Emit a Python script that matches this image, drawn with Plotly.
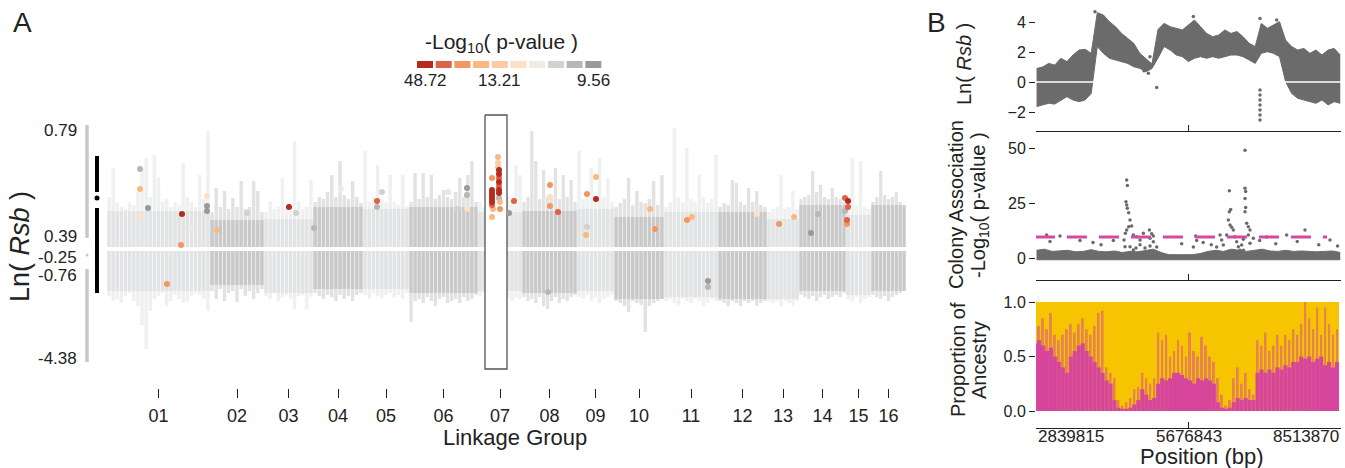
import numpy as np
import plotly.graph_objects as go

W, H = 1345, 468
def fx(px): return px / W
def fy(py): return 1 - py / H

FONT = "Liberation Sans, Arial, sans-serif"
INK = "#222222"

# ================= Panel A data =================
lg_labels = ["01", "02", "03", "04", "05", "06", "07", "08", "09", "10", "11", "12", "13", "14", "15", "16"]
lg_bounds = [107, 210, 264, 313, 363, 409, 478, 522, 577, 614, 664, 718, 767, 799, 846, 871, 906]
lg_columns = [25, 13, 12, 12, 11, 17, 11, 14, 9, 12, 13, 12, 8, 12, 6, 9]
lg_dense_up = [36, 27, 28, 40, 38, 40, 35, 36, 38, 30, 35, 35, 28, 42, 32, 42]
lg_dense_down = [40, 34, 42, 38, 38, 42, 40, 42, 40, 48, 46, 48, 48, 40, 44, 40]

rsb_up = [50, 79, 45, 40, 38, 45, 42, 55, 80, 89, 50, 92, 70, 45, 48, 40, 45, 42, 84, 50, 45, 40, 72, 48, 116,
          35, 59, 40, 56, 38, 49, 40, 66, 38, 40, 66, 56, 35,
          35, 46, 38, 40, 69, 40, 36, 106, 46, 38, 40, 67,
          45, 50, 48, 55, 72, 50, 86, 52, 48, 66, 50, 44,
          96, 45, 50, 82, 48, 45, 72, 45, 42, 72, 40,
          45, 74, 48, 74, 50, 72, 48, 52, 57, 50, 48, 55, 69, 50, 72, 86, 45,
          45, 40, 40, 40, 40, 40, 40, 50, 45, 82, 72,
          45, 50, 116, 86, 48, 77, 50, 52, 79, 48, 72, 50, 67, 45,
          96, 48, 50, 79, 45, 89, 50, 69, 45,
          40, 44, 48, 69, 42, 56, 45, 44, 48, 66, 42, 72,
          40, 45, 119, 50, 45, 99, 48, 45, 72, 50, 44, 48, 92,
          40, 44, 42, 67, 64, 45, 42, 59, 45, 56, 42, 40,
          35, 38, 40, 72, 38, 40, 56, 38,
          48, 50, 52, 76, 55, 62, 50, 48, 59, 50, 48, 45,
          40, 89, 42, 86, 40, 38,
          45, 50, 76, 52, 48, 50, 55, 45, 40]
rsb_down = [45, 50, 48, 52, 45, 42, 50, 55, 74, 98, 60, 48, 45, 42, 55, 50, 44, 48, 52, 50, 45, 42, 44, 48, 60,
            40, 48, 38, 50, 42, 40, 51, 38, 45, 40, 48, 42, 38,
            45, 48, 42, 50, 46, 44, 48, 58, 45, 44, 58, 46,
            42, 45, 48, 44, 46, 50, 44, 48, 45, 50, 44, 42,
            44, 48, 42, 45, 47, 44, 42, 46, 44, 48, 42,
            71, 50, 48, 52, 46, 50, 55, 48, 46, 52, 50, 48, 52, 46, 50, 48, 44,
            45, 42, 42, 42, 42, 42, 42, 48, 50, 46, 48,
            46, 50, 48, 52, 46, 55, 58, 50, 46, 52, 48, 50, 46, 44,
            46, 48, 44, 50, 46, 52, 48, 46, 44,
            50, 52, 55, 61, 50, 52, 54, 81, 55, 52, 50, 48,
            50, 48, 52, 55, 48, 50, 52, 48, 50, 55, 52, 48, 50,
            50, 52, 55, 50, 52, 55, 50, 52, 50, 55, 52, 50,
            50, 52, 50, 55, 50, 52, 55, 50,
            44, 46, 48, 45, 50, 46, 44, 48, 46, 44, 46, 42,
            48, 50, 46, 52, 48, 46,
            44, 46, 48, 45, 50, 46, 44, 42, 40]

# significant SNPs (position in genome units, Ln(Rsb) display units, p-value class 1..10)
snp_pos = [140, 140, 140, 148, 182, 181, 191, 167, 207, 207, 207, 217, 247, 289, 296, 314, 341, 377, 377, 382,
           448, 457, 467, 467, 467,
           492, 492, 492, 492, 492, 492, 492, 493, 492, 498, 498, 498, 499, 499, 499, 499, 499, 499, 499, 499, 500, 500,
           509, 514, 550, 550, 550, 558, 548, 587, 596, 596, 587, 586, 650, 655, 687, 692, 757, 779, 794, 811, 818,
           845, 848, 848, 845, 847, 847, 708, 708]
snp_rsb = [80, 60, 33, 41, 35, 4, 21, -35, 43, 38, 53, 19, 36, 42, 36, 21, 60, 48, 42, 57,
           57, 40, 61, 54, 40,
           71, 59, 56, 53, 50, 47, 44, 40, 32, 92, 86, 82, 79, 75, 71, 67, 63, 59, 56, 51, 47, 40,
           36, 48, 64, 52, 43, 37, -43, 55, 72, 50, 22, 14, 40, 20, 29, 32, 35, 25, 32, 16, 35,
           51, 48, 42, 38, 29, 25, -32, -38]
snp_class = [9, 4, 6, 10, 1, 3, 7, 3, 10, 10, 6, 4, 8, 1, 8, 9, 7, 2, 9, 8,
             6, 8, 10, 9, 6,
             3, 1, 1, 1, 1, 1, 2, 4, 4, 4, 5, 5, 1, 1, 2, 1, 2, 1, 1, 9, 4, 3,
             10, 2, 3, 6, 3, 2, 9, 3, 4, 1, 8, 4, 4, 3, 3, 4, 6, 3, 4, 10, 9,
             2, 1, 2, 9, 2, 3, 10, 9]

pval_colors = ["#b82a1f", "#dc6444", "#f4965f", "#fbb982", "#fccaa3",
               "#fde0c6", "#efeae3", "#d5d0cc", "#b8b7b5", "#9a9a9a"]
pval_labels = ["48.72", "13.21", "9.56"]
pval_label_swatch = [0, 4, 9]

rsb_summary_labels = ["0.79", "0.39", "-0.25", "-0.76", "-4.38"]
rsb_summary_label_pos = [119, 13, -8, -26, -109]
rsb_range_bar = [124, 11, -6, -20, -113]      # max, q3, median, q1, min (display units)
rsb_core_bar = [93, 57, 51, 41, -44]          # top, gap, dot, gap, bottom
highlight_lg07 = [485, 507, 134, -120]

# ================= Panel B data =================
bp_ticks = [2839815, 5676843, 8513870]

rsbB_hi = [0.9, 1.0, 1.24, 1.13, 1.58, 1.36, 1.8, 2.13, 2.18, 1.91, 4.62, 4.47, 4.02, 3.69, 3.24, 2.91, 2.58,
           1.91, 1.58, 1.2, 3.5, 3.91, 3.69, 3.58, 3.47, 3.8, 4.13, 3.69, 3.24, 3.02, 3.13, 3.47, 3.24, 3.36,
           3.02, 2.58, 2.36, 3.91, 3.58, 3.8, 4.02, 2.8, 2.36, 2.13, 2.24, 1.91, 2.13, 1.8, 2.13, 2.24, 1.8]
rsbB_lo = [-1.64, -1.53, -1.42, -1.47, -1.2, -0.98, -1.2, -1.31, -1.2, -0.76, 2.36, 1.91, 1.58, 1.47, 1.36,
           1.24, 1.02, 0.91, 0.69, 0.9, 1.6, 2.36, 2.13, 1.8, 1.69, 1.36, 1.58, 1.69, 1.58, 1.69, 1.58, 1.69,
           1.8, 1.8, 1.69, 1.47, 1.24, 1.91, 2.02, 1.91, 1.69, 0.02, -0.76, -1.09, -1.2, -1.31, -1.42, -1.2,
           -1.53, -1.31, -1.42]
rsbB_out_x = [5.085e6, 7.007e6, 7.007e6, 7.007e6, 7.007e6, 7.007e6, 7.007e6, 7.007e6,
              3.937e6, 5.767e6, 7.007e6, 7.317e6,
              4.775e6, 4.849e6, 4.93e6, 4.96e6, 5.05e6, 5.02e6, 4.90e6, 4.62e6, 4.70e6]
rsbB_out_y = [-0.36, -0.53, -0.87, -1.2, -1.53, -1.87, -2.2, -2.53,
              4.69, 4.36, 4.24, 4.13,
              1.02, 0.75, 0.58, 1.69, 1.47, 1.24, 0.95, 1.6, 1.3]

assoc_band = [3.5, 4.0, 3.0, 3.2, 3.5, 2.8, 3.0, 3.8, 3.0, 2.8, 3.2, 2.5, 3.0, 2.8, 3.5, 4.0, 2.5, 1.5, 1.5,
              1.6, 1.5, 2.0, 3.0, 3.5, 3.0, 4.0, 3.5, 3.0, 3.5, 4.0, 3.2, 3.0, 3.5, 3.0, 3.2, 3.0, 2.8, 3.0,
              3.2, 2.5]
assoc_x = [4.527, 4.539, 4.514, 4.527, 4.539, 4.564, 4.589, 4.564, 4.527, 4.620, 4.651, 4.712, 4.775, 4.502,
           4.477, 4.496, 4.589, 4.651, 4.700, 4.775, 4.837, 4.868, 4.949, 4.961, 4.992, 5.023, 5.023, 5.085,
           4.961, 5.810, 5.830, 5.767, 6.201, 6.263, 6.294, 6.325,
           6.437, 6.461, 6.437, 6.418, 6.449, 6.480, 6.511, 6.387, 6.542, 6.573, 6.604, 6.635,
           6.728, 6.728, 6.740, 6.728, 6.740, 6.728, 6.759, 6.790, 6.821, 6.790, 6.697, 6.666, 6.697, 6.821,
           6.883, 7.131, 7.503, 7.844, 8.309, 3.038, 3.286, 3.658, 4.278, 3.1, 3.9, 4.05, 5.55, 5.95, 6.1,
           7.0, 7.3, 7.7, 8.1, 8.45]
assoc_y = [35.5, 33, 25.6, 24.1, 22.6, 20.6, 17.3, 14.2, 12.7, 14.5, 10.5, 9.7, 8.2, 11.2,
           8.2, 5.1, 5.1, 3.6, 4.5, 6.0, 11.3, 4.5, 12.7, 9.0, 11.0, 10.0, 7.4, 5.0,
           5.5, 10.0, 8.0, 5.0, 5.0, 10.5, 8.2, 5.9,
           30.6, 22.1, 21.0, 17.3, 15.0, 14.0, 12.7, 10.5, 9.7, 7.4, 5.1, 3.5,
           49.0, 31.7, 30.2, 27.1, 23.0, 21.0, 15.8, 14.2, 12.7, 10.5, 8.5, 5.9, 3.5, 6.7,
           9.0, 9.5, 10.5, 12.7, 8.2, 10.5, 10.0, 8.0, 8.0, 7.5, 7.0, 6.0, 6.5, 7.0, 6.0,
           8.0, 6.5, 7.5, 6.0, 5.5]
assoc_threshold = 9.56
assoc_threshold_span = [2.82e6, 8.254e6]

anc_core = [0.62, 0.65, 0.6, 0.55, 0.58, 0.5, 0.45, 0.4, 0.35, 0.5, 0.55, 0.6, 0.62, 0.55, 0.5, 0.45, 0.4,
            0.35, 0.28, 0.25, 0.1, 0.03, 0.02, 0.02, 0.03, 0.06, 0.1, 0.2, 0.15, 0.1, 0.12, 0.25, 0.3, 0.28,
            0.3, 0.35, 0.35, 0.33, 0.3, 0.28, 0.25, 0.3, 0.28, 0.3, 0.28, 0.25, 0.08, 0.03, 0.02, 0.03, 0.08,
            0.12, 0.1, 0.12, 0.1, 0.1, 0.35, 0.38, 0.35, 0.38, 0.35, 0.4, 0.38, 0.42, 0.4, 0.45, 0.45, 0.5,
            0.48, 0.5, 0.45, 0.48, 0.5, 0.42, 0.45, 0.4, 0.45]
anc_spike = [0.8, 0.78, 0.85, 0.75, 0.9, 0.7, 0.65, 0.7, 0.75, 0.8, 0.72, 0.8, 0.85, 0.75, 0.7, 0.78, 0.9,
             0.92, 0.4, 0.35, 0.3, 0.1, 0.05, 0.08, 0.12, 0.2, 0.22, 0.35, 0.3, 0.25, 0.3, 0.72, 0.65, 0.7,
             0.5, 0.55, 0.65, 0.6, 0.5, 0.72, 0.55, 0.5, 0.68, 0.6, 0.5, 0.45, 0.3, 0.15, 0.05, 0.1, 0.3,
             0.4, 0.25, 0.35, 0.2, 0.15, 0.65, 0.6, 0.72, 0.55, 0.6, 0.7, 0.6, 0.7, 0.65, 0.75, 0.7, 0.8,
             1.0, 0.85, 0.75, 0.95, 0.7, 0.95, 0.8, 0.7, 0.75]

# ================= Build figure =================
fig = go.Figure()

LIGHT, DARK = "#e0e2e3", "#c6c6c6"
GAP = 2

col_x, col_w, col_c, col_du, col_dd = [], [], [], [], []
for c in range(16):
    a, b = lg_bounds[c], lg_bounds[c + 1]
    n = lg_columns[c]
    step = (b - a) / n
    for i in range(n):
        col_x.append(a + (i + 0.5) * step)
        col_w.append(step * 0.82)
        col_c.append(LIGHT if c % 2 == 0 else DARK)
        col_du.append(lg_dense_up[c])
        col_dd.append(-lg_dense_down[c])
assert len(col_x) == len(rsb_up) == len(rsb_down)
lg_mid = [(lg_bounds[i] + lg_bounds[i + 1]) / 2 for i in range(16)]

def abar(y, base, op):
    fig.add_trace(go.Bar(x=col_x, y=y, base=base, width=col_w, marker=dict(color=col_c, line_width=0),
                         opacity=op, xaxis="x", yaxis="y", hoverinfo="skip", showlegend=False))

abar(col_du, GAP, 0.85)
abar(col_dd, -GAP, 0.85)
abar(rsb_up, GAP, 0.5)
abar([-v for v in rsb_down], -GAP, 0.5)

bx0, bx1, by1, by0 = highlight_lg07
fig.add_trace(go.Scatter(x=[bx0, bx1, bx1, bx0, bx0], y=[by1, by1, by0, by0, by1], mode="lines",
                         fill="toself", fillcolor="white", line=dict(color="#555555", width=1.3),
                         xaxis="x", yaxis="y", hoverinfo="skip", showlegend=False))

order = sorted(range(len(snp_pos)), key=lambda i: -snp_class[i])
fig.add_trace(go.Scatter(x=[snp_pos[i] for i in order], y=[snp_rsb[i] for i in order], mode="markers",
                         marker=dict(size=6, color=[pval_colors[snp_class[i] - 1] for i in order],
                                     line_width=0),
                         xaxis="x", yaxis="y", hoverinfo="skip", showlegend=False))

# ---------- Panel B top ----------
GREY = "#6b6b6b"
xb_top = np.linspace(2.85e6, 8.50e6, len(rsbB_hi))
fig.add_trace(go.Scatter(x=xb_top, y=rsbB_lo, mode="lines", line=dict(color=GREY, width=1),
                         xaxis="x2", yaxis="y2", hoverinfo="skip", showlegend=False))
fig.add_trace(go.Scatter(x=xb_top, y=rsbB_hi, mode="lines", line=dict(color=GREY, width=1),
                         fill="tonexty", fillcolor=GREY,
                         xaxis="x2", yaxis="y2", hoverinfo="skip", showlegend=False))
fig.add_trace(go.Scatter(x=[bp_ticks[0], bp_ticks[-1]], y=[0, 0], mode="lines",
                         line=dict(color="white", width=1.5),
                         xaxis="x2", yaxis="y2", hoverinfo="skip", showlegend=False))
fig.add_trace(go.Scatter(x=rsbB_out_x, y=rsbB_out_y, mode="markers", marker=dict(size=3.5, color=GREY),
                         xaxis="x2", yaxis="y2", hoverinfo="skip", showlegend=False))

# ---------- Panel B middle ----------
xb_mid = np.linspace(2.85e6, 8.50e6, len(assoc_band))
fig.add_trace(go.Scatter(x=xb_mid, y=[-0.8] * len(assoc_band), mode="lines", line=dict(color=GREY, width=1),
                         xaxis="x3", yaxis="y3", hoverinfo="skip", showlegend=False))
fig.add_trace(go.Scatter(x=xb_mid, y=assoc_band, mode="lines", line=dict(color=GREY, width=1),
                         fill="tonexty", fillcolor=GREY,
                         xaxis="x3", yaxis="y3", hoverinfo="skip", showlegend=False))
fig.add_trace(go.Scatter(x=[v * 1e6 for v in assoc_x], y=assoc_y, mode="markers",
                         marker=dict(size=3.5, color=GREY),
                         xaxis="x3", yaxis="y3", hoverinfo="skip", showlegend=False))
fig.add_trace(go.Scatter(x=assoc_threshold_span, y=[assoc_threshold] * 2, mode="lines",
                         line=dict(color="#d8489f", width=3, dash="20px,12px"),
                         xaxis="x3", yaxis="y3", hoverinfo="skip", showlegend=False))

# ---------- Panel B bottom (all bars so they layer in order) ----------
nb = len(anc_core)
xb_bot = np.linspace(2.821e6, 8.440e6, nb)
step_b = xb_bot[1] - xb_bot[0]
YEL, PINK = "#f6c400", "#d6469c"
x_lo, x_hi = xb_bot[0] - step_b / 2, xb_bot[-1] + step_b / 2
fig.add_trace(go.Bar(x=[(x_lo + x_hi) / 2], y=[1.0], width=[x_hi - x_lo], marker=dict(color=YEL, line_width=0),
                     xaxis="x4", yaxis="y4", hoverinfo="skip", showlegend=False))
fig.add_trace(go.Bar(x=xb_bot, y=anc_core, width=step_b * 1.03, marker=dict(color=PINK, line_width=0),
                     xaxis="x4", yaxis="y4", hoverinfo="skip", showlegend=False))
fig.add_trace(go.Bar(x=xb_bot, y=anc_spike, width=step_b * 0.5, marker=dict(color=PINK, line_width=0),
                     opacity=0.5, xaxis="x4", yaxis="y4", hoverinfo="skip", showlegend=False))

# ================= Layout =================
bx_dom = [fx(1036), fx(1341)]
xb_common = dict(domain=bx_dom, range=[bp_ticks[0], bp_ticks[-1]], tickvals=bp_ticks, showticklabels=False,
                 ticks="inside", ticklen=6, tickwidth=1.3, tickcolor=INK, showline=True, linecolor=INK,
                 linewidth=1.3, showgrid=False, zeroline=False)
yb_common = dict(ticks="outside", ticklen=6, tickwidth=1.3, tickcolor=INK, showline=False, showgrid=False,
                 zeroline=False, tickfont=dict(size=16, color=INK, family=FONT))

fig.update_layout(
    width=W, height=H, margin=dict(l=0, r=0, t=0, b=0),
    paper_bgcolor="white", plot_bgcolor="white", barmode="overlay",
    font=dict(family=FONT, color=INK),
    xaxis=dict(domain=[fx(100), fx(910)], range=[100, 910], tickvals=lg_mid, ticktext=lg_labels,
               ticks="outside", ticklen=9, tickwidth=1.2, tickcolor=INK, showline=False, showgrid=False,
               zeroline=False, tickfont=dict(size=18, color=INK, family=FONT), anchor="y",
               ticklabelstandoff=2),
    yaxis=dict(domain=[fy(388), fy(110)], range=[-139, 139], visible=False, anchor="x"),
    xaxis2=dict(anchor="y2", **xb_common),
    yaxis2=dict(domain=[fy(131), fy(8)], range=[(82 - 131) / 15, (82 - 8) / 15], tickvals=[-2, 0, 2, 4],
                anchor="x2", **yb_common),
    xaxis3=dict(anchor="y3", **xb_common),
    yaxis3=dict(domain=[fy(280), fy(140)], range=[-10, (258 - 140) / 2.2], tickvals=[0, 25, 50],
                anchor="x3", **yb_common),
    xaxis4=dict(anchor="y4", **xb_common),
    yaxis4=dict(domain=[fy(428), fy(295)], range=[(411 - 428) / 109, (411 - 295) / 109],
                tickvals=[0, 0.5, 1.0], ticktext=["0.0", "0.5", "1.0"], anchor="x4", **yb_common),
)

shapes = []
ann = []

def text(x, y, s, size, anchor="center", angle=0, yanchor="middle"):
    ann.append(dict(x=fx(x), y=fy(y), xref="paper", yref="paper", text=s, showarrow=False,
                    font=dict(size=size, color=INK, family=FONT), xanchor=anchor, yanchor=yanchor,
                    textangle=angle))

text(22, 22, "A", 28)
text(936, 22, "B", 28)

text(501, 43, "-Log<sub>10</sub>( p-value )", 21)
sw0, swp, sww = 417, 18.7, 16
for k, col in enumerate(pval_colors):
    shapes.append(dict(type="rect", xref="paper", yref="paper", x0=fx(sw0 + k * swp), x1=fx(sw0 + k * swp + sww),
                       y0=fy(68), y1=fy(61), fillcolor=col, line_width=0))
for lab, k in zip(pval_labels, pval_label_swatch):
    text(sw0 + k * swp + sww / 2, 80, lab, 17)

text(20, 247, "Ln( <i>Rsb</i> )", 27, angle=-90)
text(515, 437, "Linkage Group", 22)
for lab, pos in zip(rsb_summary_labels, rsb_summary_label_pos):
    ann.append(dict(x=fx(79), y=pos, xref="paper", yref="y", text=lab, showarrow=False,
                    font=dict(size=17, color=INK, family=FONT), xanchor="right", yanchor="middle"))
gx, kx = fx(87), fx(97)
g = rsb_range_bar
shapes.append(dict(type="line", xref="paper", yref="y", x0=gx, x1=gx, y0=g[0], y1=g[1],
                   line=dict(color="#c8c8c8", width=3.5)))
shapes.append(dict(type="line", xref="paper", yref="y", x0=gx, x1=gx, y0=g[3], y1=g[4],
                   line=dict(color="#c8c8c8", width=3.5)))
shapes.append(dict(type="circle", xref="paper", yref="y", x0=fx(85.5), x1=fx(88.5), y0=g[2] - 1.5, y1=g[2] + 1.5,
                   fillcolor="#c8c8c8", line_width=0))
k_ = rsb_core_bar
shapes.append(dict(type="line", xref="paper", yref="y", x0=kx, x1=kx, y0=k_[0], y1=k_[1],
                   line=dict(color="black", width=4)))
shapes.append(dict(type="line", xref="paper", yref="y", x0=kx, x1=kx, y0=k_[3], y1=k_[4],
                   line=dict(color="black", width=4)))
shapes.append(dict(type="circle", xref="paper", yref="y", x0=fx(94.5), x1=fx(99.5), y0=k_[2] - 2.5, y1=k_[2] + 2.5,
                   fillcolor="black", line_width=0))

text(964, 64, "Ln( <i>Rsb</i> )", 20, angle=-90)
text(956, 205, "Colony Association", 20, angle=-90)
text(979, 205, "-Log<sub>10</sub>( p-value )", 20, angle=-90)
text(958, 360, "Proportion of", 20, angle=-90)
text(979, 360, "Ancestry", 20, angle=-90)

for v, anc in zip(bp_ticks, ["left", "center", "right"]):
    ann.append(dict(x=v, y=fy(436), xref="x4", yref="paper", text=str(v), showarrow=False,
                    font=dict(size=17, color=INK, family=FONT), xanchor=anc, yanchor="middle"))
text(1202, 456, "Position (bp)", 22)

fig.update_layout(shapes=shapes, annotations=ann)
fig.write_html("out.html", config={"displayModeBar": False},
               post_script="document.body.style.margin='0';document.body.style.overflow='hidden';")
